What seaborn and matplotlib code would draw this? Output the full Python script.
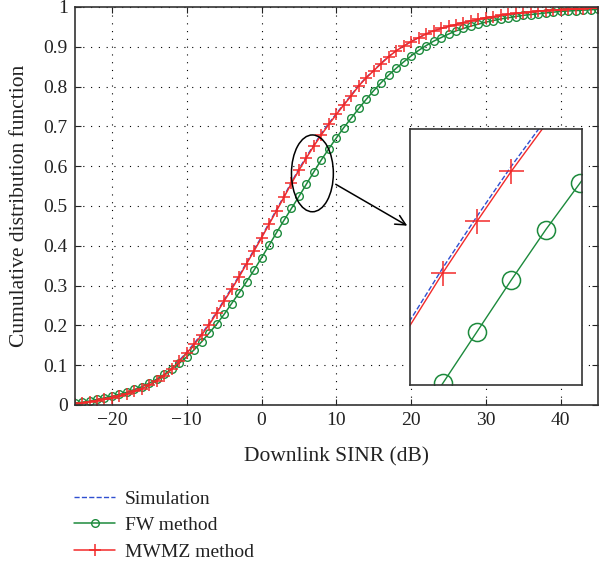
import seaborn as sns
import matplotlib.pyplot as plt
import numpy as np
from matplotlib.patches import Ellipse

# Downlink SINR in dB, one sample per dB
sinr = list(range(-25, 46))

mwmz = [0.003, 0.005, 0.008, 0.011, 0.014, 0.018, 0.023, 0.028, 0.034, 0.041,
        0.050, 0.061, 0.074, 0.090, 0.110, 0.130, 0.152, 0.176, 0.202, 0.231,
        0.261, 0.291, 0.322, 0.355, 0.387, 0.420, 0.454, 0.488, 0.522, 0.557,
        0.590, 0.621, 0.651, 0.679, 0.705, 0.730, 0.754, 0.777, 0.802, 0.822,
        0.840, 0.858, 0.875, 0.890, 0.902, 0.913, 0.923, 0.932, 0.940, 0.946,
        0.951, 0.956, 0.961, 0.965, 0.969, 0.973, 0.976, 0.979, 0.982, 0.984,
        0.986, 0.988, 0.990, 0.991, 0.992, 0.993, 0.994, 0.995, 0.996, 0.997,
        0.997]

simulation = [0.003, 0.005, 0.008, 0.011, 0.014, 0.018, 0.023, 0.029, 0.035, 0.042,
              0.051, 0.062, 0.076, 0.092, 0.112, 0.133, 0.155, 0.179, 0.205, 0.234,
              0.264, 0.294, 0.325, 0.358, 0.390, 0.423, 0.457, 0.491, 0.525, 0.560,
              0.593, 0.624, 0.654, 0.682, 0.708, 0.732, 0.756, 0.779, 0.803, 0.823,
              0.841, 0.859, 0.876, 0.890, 0.902, 0.913, 0.923, 0.932, 0.940, 0.946,
              0.951, 0.956, 0.961, 0.965, 0.969, 0.973, 0.976, 0.979, 0.982, 0.984,
              0.986, 0.988, 0.990, 0.991, 0.992, 0.993, 0.994, 0.995, 0.996, 0.997,
              0.997]

fw = [0.005, 0.007, 0.010, 0.014, 0.018, 0.022, 0.027, 0.032, 0.039, 0.046,
      0.055, 0.065, 0.077, 0.091, 0.105, 0.121, 0.139, 0.159, 0.181, 0.203,
      0.228, 0.255, 0.282, 0.310, 0.339, 0.370, 0.401, 0.433, 0.464, 0.494,
      0.524, 0.555, 0.586, 0.616, 0.644, 0.671, 0.697, 0.721, 0.745, 0.768,
      0.790, 0.810, 0.829, 0.846, 0.862, 0.877, 0.891, 0.903, 0.914, 0.923,
      0.932, 0.940, 0.946, 0.952, 0.957, 0.962, 0.966, 0.970, 0.973, 0.976,
      0.979, 0.981, 0.983, 0.985, 0.987, 0.989, 0.990, 0.991, 0.992, 0.993,
      0.994]

labels = ["Simulation", "FW method", "MWMZ method"]
x_ticks = [-20, -10, 0, 10, 20, 30, 40]
y_ticks = [0, 0.1, 0.2, 0.3, 0.4, 0.5, 0.6, 0.7, 0.8, 0.9, 1]
y_ticklabels = ["0", "0.1", "0.2", "0.3", "0.4", "0.5", "0.6", "0.7", "0.8", "0.9", "1"]

# zoomed window shown in the inset
zoom_x = (4.06, 9.04)
zoom_y = (0.523, 0.676)

blue = "#2f4fd0"
green = "#1c8a3c"
red = "#f22a2a"

sns.set_style("ticks")
plt.rcParams['font.family'] = ['Liberation Serif', 'DejaVu Serif']
plt.rcParams['axes.unicode_minus'] = True

fig = plt.figure(figsize=(5.99, 5.73), dpi=100)
ax = fig.add_axes([0.1245, 0.2932, 0.874, 0.6946])

sns.lineplot(x=sinr, y=simulation, ax=ax, color=blue, linestyle="--", lw=1.0,
             label=labels[0])
sns.lineplot(x=sinr, y=fw, ax=ax, color=green, lw=1.1, marker="o", markersize=5.5,
             markerfacecolor="none", markeredgecolor=green, markeredgewidth=1.0,
             label=labels[1])
sns.lineplot(x=sinr, y=mwmz, ax=ax, color=red, lw=1.1, marker="+", markersize=9,
             markeredgecolor=red, markeredgewidth=1.1, label=labels[2])

ax.set_xlim(-25, 45)
ax.set_ylim(0, 1)
ax.set_xticks(x_ticks)
ax.set_yticks(y_ticks)
ax.set_yticklabels(y_ticklabels)
ax.tick_params(direction="in", top=True, right=True, labelsize=14, length=4,
               colors="#222222", pad=5)
ax.grid(True, linestyle=(0, (1, 6)), color="black", linewidth=0.8)
for s in ax.spines.values():
    s.set_linewidth(1.2)
    s.set_color("#333333")
ax.set_xlabel("Downlink SINR (dB)", fontsize=15.5, color="#222222", labelpad=13)
ax.set_ylabel("Cumulative distribution function", fontsize=15.5, color="#222222", labelpad=10)

# ellipse and arrow pointing at the zoom box
ax.add_patch(Ellipse((6.8, 0.582), 5.6, 0.193, fill=False, color="black", lw=1.1, zorder=5))
ax.annotate("", xy=(19.8, 0.447), xytext=(9.6, 0.558),
            arrowprops=dict(arrowstyle="->", color="black", lw=1.1, mutation_scale=18))


def inside(ys):
    # only markers whose centre lies in the zoom window
    return [i for i, (a, b) in enumerate(zip(sinr, ys))
            if zoom_x[0] <= a <= zoom_x[1] and zoom_y[0] <= b <= zoom_y[1]]


# inset
ins = ax.inset_axes([19.9, 0.05, 22.9, 0.643], transform=ax.transData)
sns.lineplot(x=sinr, y=simulation, ax=ins, color=blue, linestyle="--", lw=1.0)
sns.lineplot(x=sinr, y=fw, ax=ins, color=green, lw=1.0, marker="o", markersize=13,
             markerfacecolor="none", markeredgecolor=green, markeredgewidth=1.1,
             markevery=inside(fw))
sns.lineplot(x=sinr, y=mwmz, ax=ins, color=red, lw=1.0, marker="+", markersize=18,
             markeredgecolor=red, markeredgewidth=1.1, markevery=inside(mwmz))
ins.set_xlim(*zoom_x)
ins.set_ylim(*zoom_y)
ins.set_xticks([])
ins.set_yticks([])
ins.set_xlabel("")
ins.set_ylabel("")
ins.set_facecolor("white")
for s in ins.spines.values():
    s.set_linewidth(1.2)
    s.set_color("#333333")

handles, labs = ax.get_legend_handles_labels()
ax.legend_.remove()
fig.legend(handles, labs, loc="upper left", bbox_to_anchor=(0.095, 0.175), frameon=False,
           fontsize=14, handlelength=2.1, labelspacing=0.45, handletextpad=0.5,
           labelcolor="#222222")

plt.savefig("out.png", dpi=100)
